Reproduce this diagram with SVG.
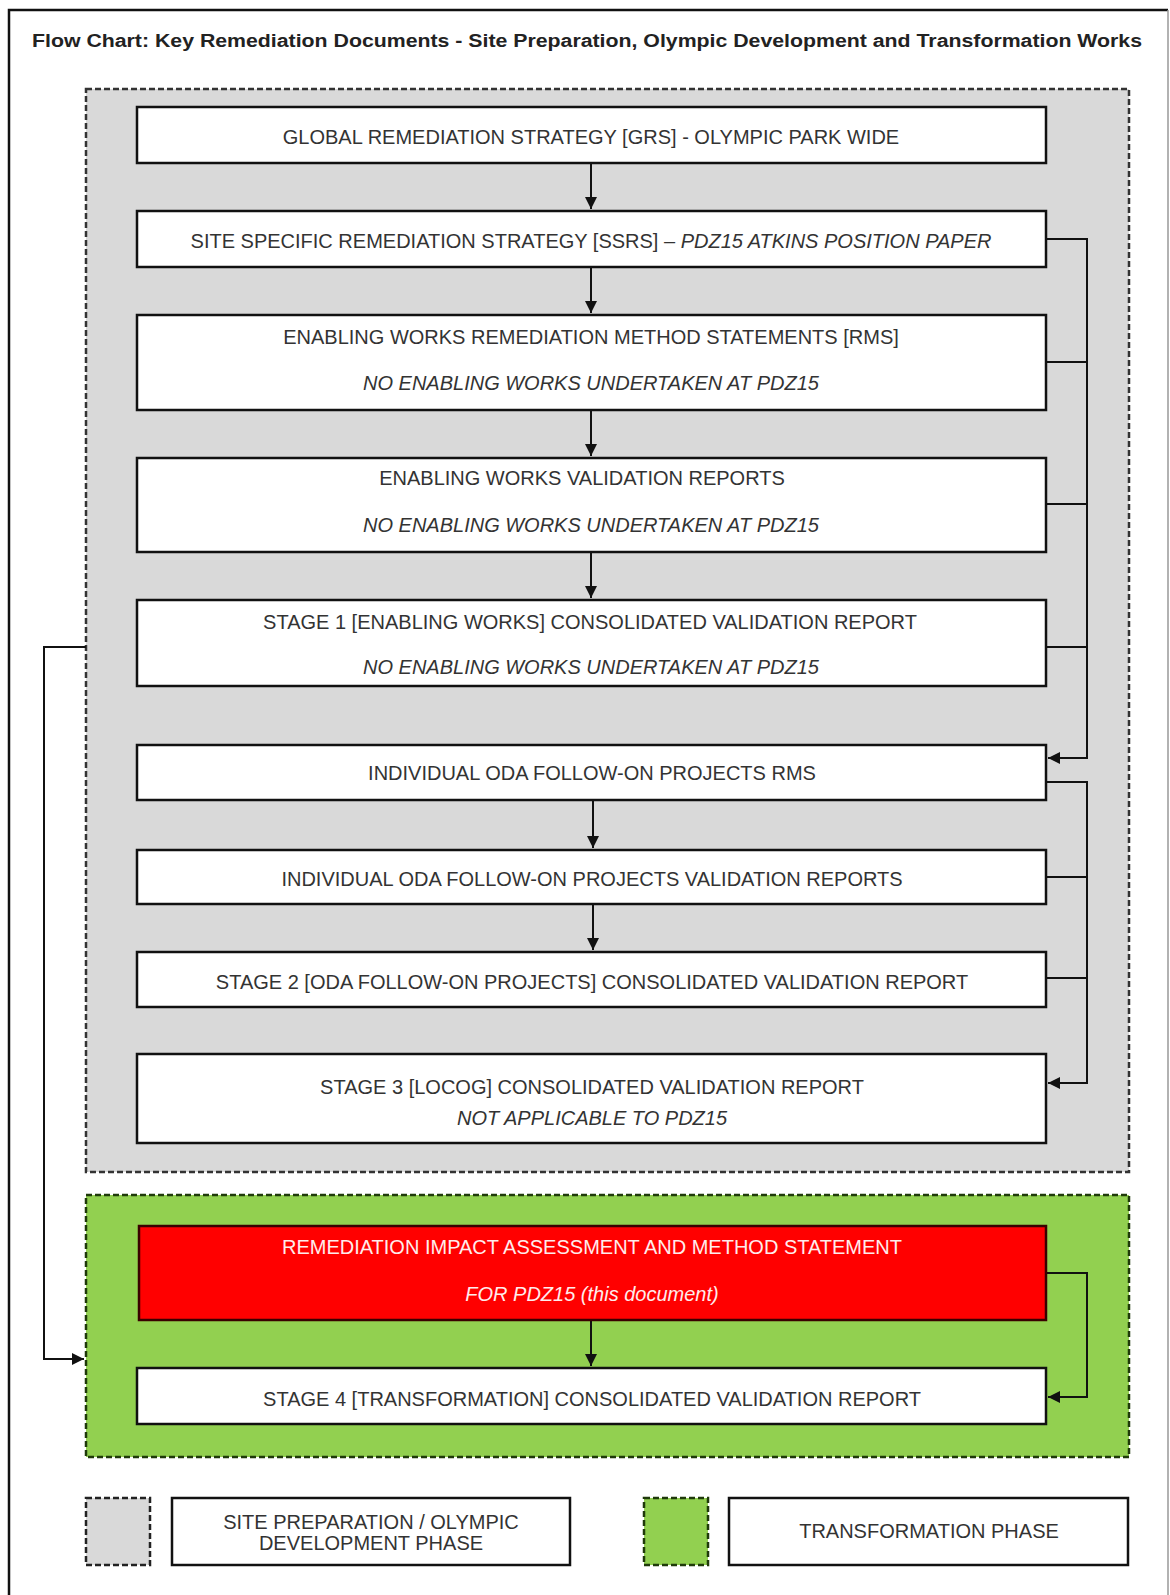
<svg xmlns="http://www.w3.org/2000/svg" width="1170" height="1595" viewBox="0 0 1170 1595">
<defs>
<style>
.box{fill:#fff;stroke:#111;stroke-width:2.5}
.red{fill:#ff0000;stroke:#3a0000;stroke-width:2.5}
.t{font-family:"Liberation Sans",Arial,sans-serif;font-size:20px;fill:#333;text-anchor:middle}
.i{font-style:italic}
.w{fill:#ffecec}
.c{fill:none;stroke:#111;stroke-width:2}
.lg{font-family:"Liberation Sans",Arial,sans-serif;font-size:20px;fill:#333;text-anchor:middle}
</style>
<marker id="ah" viewBox="0 0 10 10" refX="10" refY="5" markerWidth="6" markerHeight="6" orient="auto" markerUnits="strokeWidth">
<path d="M0,0 L10,5 L0,10 z" fill="#111"/>
</marker>
</defs>
<rect x="0" y="0" width="1170" height="1595" fill="#fff"/>
<path d="M9,1600 V10 H1168" fill="none" stroke="#111" stroke-width="2.5"/>
<path d="M1168,10 V1600" fill="none" stroke="#999" stroke-width="1.5"/>
<text x="587" y="47" font-family="Liberation Sans,Arial,sans-serif" font-weight="bold" font-size="18" fill="#222" text-anchor="middle" textLength="1110" lengthAdjust="spacingAndGlyphs">Flow Chart: Key Remediation Documents - Site Preparation, Olympic Development and Transformation Works</text>

<g id="phase-siteprep">
<rect x="86" y="89" width="1043" height="1083" fill="#d9d9d9" stroke="#333" stroke-width="2.5" stroke-dasharray="6,3"/>
</g>
<g id="phase-transformation">
<rect x="86" y="1195" width="1043" height="262" fill="#92d050" stroke="#1f3a0a" stroke-width="2.5" stroke-dasharray="6,3"/>
</g>

<g id="connectors">
<line class="c" x1="591" y1="163" x2="591" y2="209" marker-end="url(#ah)"/>
<line class="c" x1="591" y1="267" x2="591" y2="313" marker-end="url(#ah)"/>
<line class="c" x1="591" y1="410" x2="591" y2="456" marker-end="url(#ah)"/>
<line class="c" x1="591" y1="552" x2="591" y2="598" marker-end="url(#ah)"/>
<line class="c" x1="593" y1="800" x2="593" y2="848" marker-end="url(#ah)"/>
<line class="c" x1="593" y1="904" x2="593" y2="950" marker-end="url(#ah)"/>
<line class="c" x1="591" y1="1320" x2="591" y2="1366" marker-end="url(#ah)"/>
<path class="c" d="M1046,239 H1087 V758 H1048" marker-end="url(#ah)"/>
<path class="c" d="M1046,362 H1087 M1046,504 H1087 M1046,647 H1087"/>
<path class="c" d="M1046,782 H1087 V1083 H1048" marker-end="url(#ah)"/>
<path class="c" d="M1046,877 H1087 M1046,978 H1087"/>
<path class="c" d="M1046,1273 H1087 V1397 H1048" marker-end="url(#ah)"/>
<path class="c" d="M86,647 H44 V1359 H84" marker-end="url(#ah)"/>
</g>

<g id="n-grs">
<rect class="box" x="137" y="107" width="909" height="56"/>
<text class="t" x="591" y="144">GLOBAL REMEDIATION STRATEGY [GRS] - OLYMPIC PARK WIDE</text>
</g>
<g id="n-ssrs">
<rect class="box" x="137" y="211" width="909" height="56"/>
<text class="t" x="591" y="248">SITE SPECIFIC REMEDIATION STRATEGY [SSRS] – <tspan class="i">PDZ15 ATKINS POSITION PAPER</tspan></text>
</g>
<g id="n-ew-rms">
<rect class="box" x="137" y="315" width="909" height="95"/>
<text class="t" x="591" y="344">ENABLING WORKS REMEDIATION METHOD STATEMENTS [RMS]</text>
<text class="t i" x="591" y="390">NO ENABLING WORKS UNDERTAKEN AT PDZ15</text>
</g>
<g id="n-ew-val">
<rect class="box" x="137" y="458" width="909" height="94"/>
<text class="t" x="582" y="485">ENABLING WORKS VALIDATION REPORTS</text>
<text class="t i" x="591" y="532">NO ENABLING WORKS UNDERTAKEN AT PDZ15</text>
</g>
<g id="n-stage1">
<rect class="box" x="137" y="600" width="909" height="86"/>
<text class="t" x="590" y="629">STAGE 1 [ENABLING WORKS] CONSOLIDATED VALIDATION REPORT</text>
<text class="t i" x="591" y="674">NO ENABLING WORKS UNDERTAKEN AT PDZ15</text>
</g>
<g id="n-oda-rms">
<rect class="box" x="137" y="745" width="909" height="55"/>
<text class="t" x="592" y="780">INDIVIDUAL ODA FOLLOW-ON PROJECTS RMS</text>
</g>
<g id="n-oda-val">
<rect class="box" x="137" y="850" width="909" height="54"/>
<text class="t" x="592" y="886">INDIVIDUAL ODA FOLLOW-ON PROJECTS VALIDATION REPORTS</text>
</g>
<g id="n-stage2">
<rect class="box" x="137" y="952" width="909" height="55"/>
<text class="t" x="592" y="989">STAGE 2 [ODA FOLLOW-ON PROJECTS] CONSOLIDATED VALIDATION REPORT</text>
</g>
<g id="n-stage3">
<rect class="box" x="137" y="1054" width="909" height="89"/>
<text class="t" x="592" y="1094">STAGE 3 [LOCOG] CONSOLIDATED VALIDATION REPORT</text>
<text class="t i" x="592" y="1125">NOT APPLICABLE TO PDZ15</text>
</g>
<g id="n-riams">
<rect class="red" x="139" y="1226" width="907" height="94"/>
<text class="t w" x="592" y="1254">REMEDIATION IMPACT ASSESSMENT AND METHOD STATEMENT</text>
<text class="t i w" x="592" y="1301">FOR PDZ15 (this document)</text>
</g>
<g id="n-stage4">
<rect class="box" x="137" y="1368" width="909" height="56"/>
<text class="t" x="592" y="1406">STAGE 4 [TRANSFORMATION] CONSOLIDATED VALIDATION REPORT</text>
</g>

<g id="legend">
<rect x="86" y="1498" width="64" height="67" fill="#d9d9d9" stroke="#222" stroke-width="2.5" stroke-dasharray="6,3"/>
<rect class="box" x="172" y="1498" width="398" height="67"/>
<text class="lg" x="371" y="1529">SITE PREPARATION / OLYMPIC</text>
<text class="lg" x="371" y="1550">DEVELOPMENT PHASE</text>
<rect x="644" y="1498" width="64" height="67" fill="#92d050" stroke="#1f3a0a" stroke-width="2.5" stroke-dasharray="6,3"/>
<rect class="box" x="729" y="1498" width="399" height="67"/>
<text class="lg" x="929" y="1538">TRANSFORMATION PHASE</text>
</g>
</svg>
